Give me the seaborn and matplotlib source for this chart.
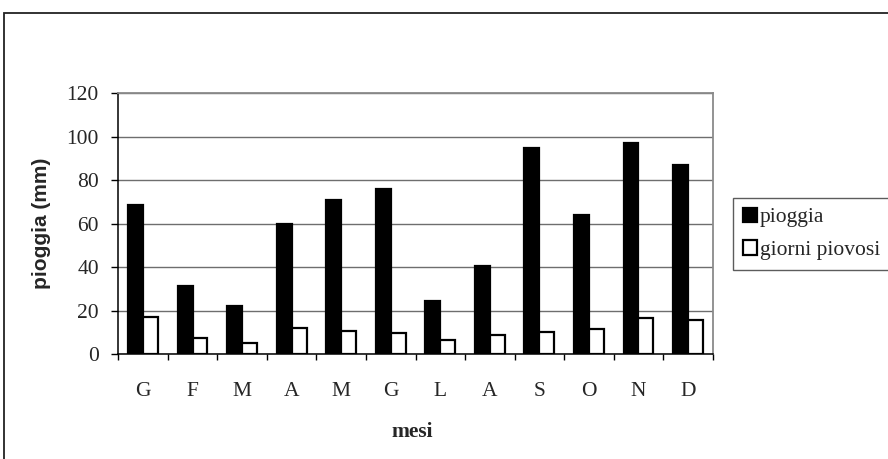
import matplotlib
matplotlib.use("Agg")
import matplotlib.pyplot as plt
import seaborn as sns
import pandas as pd
from matplotlib.patches import Rectangle

# Monthly rainfall (mm) and number of rainy days
mesi = ["G", "F", "M", "A", "M", "G", "L", "A", "S", "O", "N", "D"]
pioggia = [68.5, 31.4, 22.2, 60.0, 70.8, 76.0, 24.5, 40.6, 94.6, 64.0, 97.3, 86.9]
giorni_piovosi = [17.0, 7.5, 5.2, 11.8, 10.7, 9.7, 6.3, 8.9, 10.3, 11.3, 16.4, 15.5]
serie = ["pioggia", "giorni piovosi"]
y_ticks = [0, 20, 40, 60, 80, 100, 120]

df = pd.DataFrame({
    "pos": list(range(len(mesi))) * 2,
    "valore": pioggia + giorni_piovosi,
    "serie": [serie[0]] * len(mesi) + [serie[1]] * len(mesi),
})

sns.set_theme(style="white")
serif = ["Liberation Serif", "DejaVu Serif"]
sans = ["Liberation Sans", "DejaVu Sans"]
plt.rcParams["font.family"] = serif

fig = plt.figure(figsize=(8.88, 4.59), dpi=100)
W, H = 888, 459
ax = fig.add_axes([118.3 / W, 1 - 354 / H, (712.7 - 118.3) / W, (354 - 93.3) / H])

sns.barplot(
    data=df, x="pos", y="valore", hue="serie", hue_order=serie,
    palette={serie[0]: "black", serie[1]: "white"},
    edgecolor="black", linewidth=1.6, width=0.6, gap=0,
    ax=ax, zorder=3,
)

ax.set_xlim(-0.5, len(mesi) - 0.5)
ax.set_ylim(0, 120)

# grid and frame
ax.set_yticks(y_ticks)
ax.yaxis.grid(True, color="#6e6e6e", linewidth=1.0, zorder=0)
ax.set_axisbelow(True)
for side in ["top", "right"]:
    ax.spines[side].set_visible(True)
    ax.spines[side].set_color("#8a8a8a")
    ax.spines[side].set_linewidth(1.3)
for side in ["left", "bottom"]:
    ax.spines[side].set_color("black")
    ax.spines[side].set_linewidth(1.1)

fs = 15.5

# tick labels
ax.set_yticklabels([str(v) for v in y_ticks], fontsize=fs, family=serif)
ax.tick_params(axis="y", which="major", direction="out", length=5, width=1,
               color="black", pad=9, left=True)
ax.set_xticks(range(len(mesi)))
ax.set_xticklabels(mesi, fontsize=fs, family=serif)
ax.tick_params(axis="x", which="major", length=0, pad=20)
ax.set_xticks([i - 0.5 for i in range(len(mesi) + 1)], minor=True)
ax.tick_params(axis="x", which="minor", direction="out", length=4.5, width=1,
               color="black", bottom=True)

# axis titles
ax.set_ylabel("pioggia (mm)", fontsize=15, fontweight="bold", family=sans)
ax.yaxis.set_label_coords(-0.130, 0.5)
ax.yaxis.label.set_va("center")
ax.set_xlabel("mesi", fontsize=fs, fontweight="bold", family=serif)
ax.xaxis.set_label_coords(0.495, -0.299)
ax.xaxis.label.set_va("center")

# legend
old = ax.get_legend()
handles = old.legend_handles
labels = [t.get_text() for t in old.get_texts()]
old.remove()
leg = ax.legend(
    handles, labels, loc="upper left",
    bbox_to_anchor=(733 / W, 1 - 198 / H), bbox_transform=fig.transFigure,
    prop={"family": serif, "size": fs},
    handlelength=0.65, handleheight=0.65, handletextpad=0.15,
    labelspacing=0.6, borderpad=0.45, borderaxespad=0,
    frameon=True, fancybox=False, shadow=False,
)
leg.get_frame().set_edgecolor("#333333")
leg.get_frame().set_linewidth(1.0)
leg.get_frame().set_facecolor("white")
for h in leg.legend_handles:
    h.set_edgecolor("black")
    h.set_linewidth(1.6)

# outer chart border
fig.patches.append(Rectangle((4 / W, -0.05), 1.2, 1 - 13 / H + 0.05,
                             transform=fig.transFigure, fill=False,
                             edgecolor="#222222", linewidth=1.3))

fig.savefig("out.png", dpi=100)
